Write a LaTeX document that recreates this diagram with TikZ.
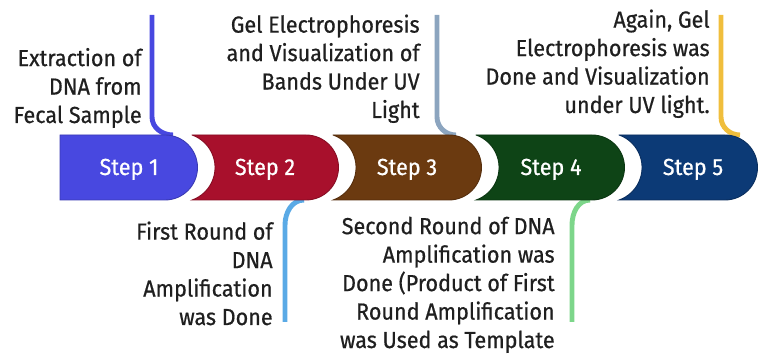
\documentclass[tikz,border=0pt]{standalone}
\usepackage{fontspec}
\setmainfont{Fira Sans}[FakeStretch=0.93, FakeBold=0.6]
\usetikzlibrary{positioning}
\definecolor{stepA}{HTML}{4848E0}
\definecolor{stepB}{HTML}{A8102C}
\definecolor{stepC}{HTML}{6B3A10}
\definecolor{stepD}{HTML}{0E4416}
\definecolor{stepE}{HTML}{0C3A76}
\definecolor{stemB}{HTML}{5AAAE6}
\definecolor{stemC}{HTML}{8CA5BF}
\definecolor{stemD}{HTML}{7DD68A}
\definecolor{stemE}{HTML}{F0BE3C}
\tikzset{
    stepshape/.style={fill=#1, draw=#1!80!black, line width=0.5pt},
    steplabel/.style={text=white, inner sep=0pt, anchor=base, font=\fontsize{13.2}{16}\selectfont},
    stepnote/.style={align=right, anchor=base east, inner sep=0pt, text=black!88, font=\fontsize{13.2}{16.2}\selectfont},
    stem/.style={line width=2.8pt, draw=#1}
}

\begin{document}
\begin{tikzpicture}[x=0.02cm, y=0.02cm]
    \useasboundingbox (0,0) rectangle (760,358);
    % stems
    \draw[stem=stepA] (152,343) -- (152,241) to[out=-90, in=180] (173,223);
    \draw[stem=stemC] (437,343) -- (437,241) to[out=-90, in=180] (456,223);
    \draw[stem=stemE] (721,343) -- (721,241) to[out=-90, in=180] (740,223);
    \draw[stem=stemB] (304,158) to[out=180, in=90] (285,133) -- (285,36);
    \draw[stem=stemD] (590,158) to[out=180, in=90] (572,133) -- (572,36);
    % band
    \filldraw[stepshape=stepA] (60,223) -- (165,223) arc[start angle=90, end angle=-90, radius=32.5] -- (60,158) -- cycle;
    \foreach \p/\c/\col in {165/306/stepB, 306/449/stepC, 449/592/stepD, 592/725/stepE}
        \filldraw[stepshape=\col] ({\p+27.1},223) -- (\c,223) arc[start angle=90, end angle=-90, radius=32.5]
            -- ({\p+27.1},158) arc[start angle=-70.4, end angle=70.4, radius=34.5] -- cycle;
    % labels
    \node[steplabel] (lab1) at (129,183) {Step 1};
    \node[steplabel] (lab2) at (265,183) {Step 2};
    \node[steplabel] (lab3) at (407,183) {Step 3};
    \node[steplabel] (lab4) at (551,183) {Step 4};
    \node[steplabel] (lab5) at (693,183) {Step 5};
    % notes (anchored at the last line)
    \node[stepnote] (note1) at (142,235) {Extraction of\\DNA from\\Fecal Sample};
    \node[stepnote] (note3) at (420,240) {Gel Electrophoresis\\and Visualization of\\Bands Under UV\\Light};
    \node[stepnote] (note5) at (710,245) {Again, Gel\\Electrophoresis was\\Done and Visualization\\under UV light.};
    \node[stepnote] (note2) at (273,33) {First Round of\\DNA\\Amplification\\was Done};
    \node[stepnote] (note4) at (555,10) {Second Round of DNA\\Amplification was\\Done (Product of First\\Round Amplification\\was Used as Template};
\end{tikzpicture}
\end{document}
